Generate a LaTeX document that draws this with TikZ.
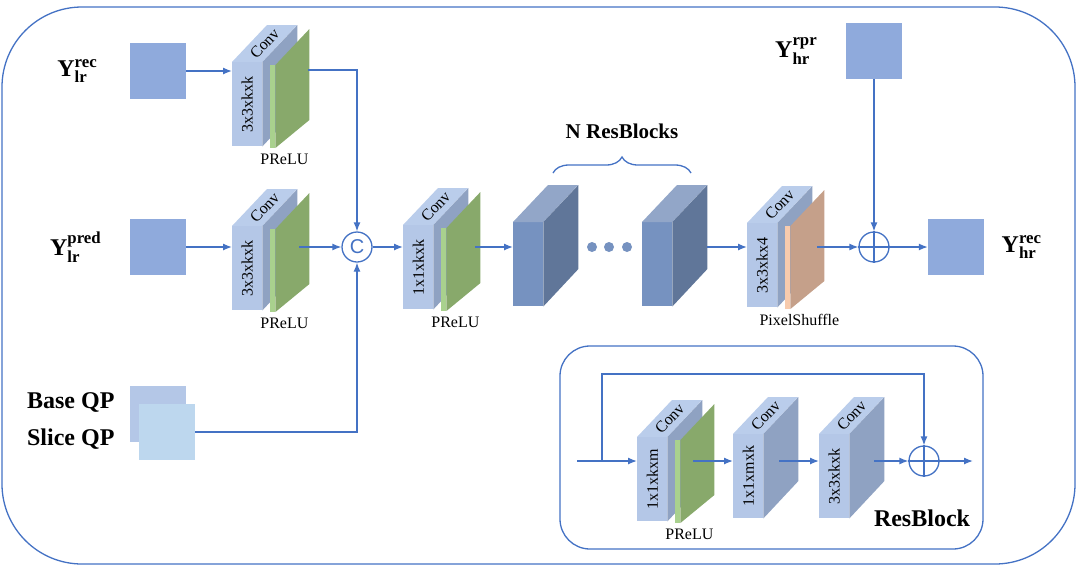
\documentclass[tikz,border=0pt]{standalone}
\usepackage{amsmath}
\usepackage{fontspec}
\setmainfont{Liberation Serif}
\setsansfont{Liberation Sans}
\usetikzlibrary{arrows.meta,positioning,decorations.pathreplacing}

\definecolor{lineblue}{RGB}{68,114,196}
\definecolor{mapblue}{RGB}{143,170,220}
\definecolor{qpbasecol}{RGB}{180,199,231}
\definecolor{qpslicecol}{RGB}{189,215,238}
\definecolor{convfrontcol}{RGB}{180,199,231}
\definecolor{convtopcol}{RGB}{186,205,235}
\definecolor{convsidecol}{RGB}{143,162,194}
\definecolor{resfrontcol}{RGB}{118,146,192}
\definecolor{restopcol}{RGB}{146,166,200}
\definecolor{ressidecol}{RGB}{96,118,153}
\definecolor{prelustripcol}{RGB}{169,209,142}
\definecolor{prelufacecol}{RGB}{136,169,107}
\definecolor{shufstripcol}{RGB}{248,203,173}
\definecolor{shuffacecol}{RGB}{197,160,138}

\tikzset{
  >={Latex[length=9pt,width=7pt]},
  link/.style={draw=lineblue, line width=1.3pt},
  fmap/.style={fill=mapblue, minimum size=56pt, inner sep=0pt},
  qpbox/.style={minimum size=56pt, inner sep=0pt},
  ylab/.style={font=\fontsize{24}{28}\selectfont},
  boldlab/.style={font=\fontsize{24}{28}\selectfont\bfseries},
  cube/.style={anchor=north west, inner sep=0pt, minimum width=30pt, minimum height=84pt},
  conv front/.style={fill=convfrontcol},
  conv top/.style={fill=convtopcol},
  conv side/.style={fill=convsidecol},
  res front/.style={fill=resfrontcol},
  res top/.style={fill=restopcol},
  res side/.style={fill=ressidecol},
  prelu strip/.style={fill=prelustripcol},
  prelu face/.style={fill=prelufacecol},
  shuffle strip/.style={fill=shufstripcol},
  shuffle face/.style={fill=shuffacecol},
  opnode/.style={circle, draw=lineblue, line width=1.3pt, fill=white, minimum size=30pt, inner sep=0pt}
}

% 3d block: scheme, name, x, y, front text
\newcommand{\layercube}[5]{%
  \node[cube,#1 front] (#2) at (#3,#4) {\rotatebox{90}{#5}};
  \fill[#1 top] (#2.north west) -- ++(35,-37) -- ++(30,0) -- (#2.north east) -- cycle;
  \fill[#1 side] (#2.north east) -- ++(35,-37) -- ++(0,84) -- (#2.south east) -- cycle;
}
\newcommand{\convcube}[4]{%
  \layercube{conv}{#1}{#2}{#3}{#4}
  \path (#1.north) ++(17.5,-18.5) node[rotate=47] {Conv};
}
% activation slab behind a block: block name, scheme, text
\newcommand{\actpanel}[3]{%
  \fill[#2 strip] (#1.north east) ++(8,3) rectangle ++(5,83);
  \fill[#2 face] (#1.north east) ++(13,3) -- ++(34,-36) -- ++(0,91) -- ++(-34,28) -- cycle;
  \path (#1.south east) ++(22,13) node {#3};
}

\begin{document}
\begin{tikzpicture}[x=1pt,y=-1pt,font=\fontsize{16}{19}\selectfont]
\useasboundingbox (0,0) rectangle (1080,566);
\draw[link, rounded corners=80pt] (2,7) rectangle (1075,564);
\draw[link, rounded corners=30pt] (560,346) rectangle (983,549);

% inputs
\node[fmap] (lrrec) at (158,71) {};
\node[ylab, left=29pt of lrrec] (lrrectxt) {$\textbf{Y}^{\textbf{rec}}_{\textbf{lr}}$};
\node[fmap] (lrpred) at (158,247) {};
\node[ylab, left=25pt of lrpred] (lrpredtxt) {$\textbf{Y}^{\textbf{pred}}_{\textbf{lr}}$};
\node[qpbox, fill=qpbasecol] (qpbase) at (158,414) {};
\node[qpbox, fill=qpslicecol] (qpslice) at (167,432) {};
\node[boldlab, anchor=east] (basetxt) at (118,402) {Base QP};
\node[boldlab, anchor=east] (slicetxt) at (118,439) {Slice QP};

% feature extraction
\convcube{b1}{232}{62}{3x3xkxk}
\actpanel{b1}{prelu}{PReLU}
\convcube{b2}{232}{226}{3x3xkxk}
\actpanel{b2}{prelu}{PReLU}
\node[opnode, text=lineblue, font=\fontsize{20}{22}\selectfont\sffamily] (cc) at (357,247) {C};

\convcube{b3}{403}{225}{1x1xkxk}
\actpanel{b3}{prelu}{PReLU}

% res blocks
\layercube{res}{resa}{513}{222}{}
\layercube{res}{resb}{642}{222}{}
\foreach \x in {592,609,627} \fill[resfrontcol] (\x,247) circle (5pt);
\coordinate (bl) at (553,173);
\coordinate (br) at (691,173);
\draw[link, decorate, decoration={brace, amplitude=16pt}] (bl) -- (br);
\node[font=\fontsize{21}{24}\selectfont\bfseries] (nres) at (622,131) {N ResBlocks};

\convcube{b4}{747}{223}{3x3xkx4}
\actpanel{b4}{shuffle}{PixelShuffle}

% output
\node[opnode] (add) at (874,247) {};
\draw[link] (add.north) -- (add.south) (add.west) -- (add.east);
\node[fmap] (hrrpr) at (874,51) {};
\node[ylab, left=25pt of hrrpr] (hrrprtxt) {$\textbf{Y}^{\textbf{rpr}}_{\textbf{hr}}$};
\node[fmap] (hrrec) at (956,247) {};
\node[ylab, right=14pt of hrrec] (hrrectxt) {$\textbf{Y}^{\textbf{rec}}_{\textbf{hr}}$};

\path (b1.north east) ++(46,8) coordinate (b1o);
\path (b2.east |- cc) ++(37,0) coordinate (b2o);
\path (b3.east |- cc) ++(42,0) coordinate (b3o);
\path (resb.east |- cc) ++(35,0) coordinate (resbo);
\path (b4.east |- cc) ++(40,0) coordinate (b4o);

\path[->, every edge/.append style={link}]
(lrrec.east) edge (lrrec -| b1.west)
(lrpred.east) edge (lrpred -| b2.west)
(b2o) edge (cc.west)
(cc.east) edge (cc -| b3.west)
(b3o) edge (b3o -| resa.west)
(resbo) edge (resbo -| b4.west)
(b4o) edge (add.west)
(hrrpr.south) edge (add.north)
(add.east) edge (add -| hrrec.west);
\draw[link,->] (b1o) -| (cc.north);
\draw[link,->] (qpslice.east) -| (cc.south);

% resblock detail
\convcube{r1}{637}{437}{1x1xkxm}
\actpanel{r1}{prelu}{PReLU}
\convcube{r2}{733}{434}{1x1xmxk}
\convcube{r3}{819}{434}{3x3xkxk}
\node[opnode] (radd) at (924,461) {};
\draw[link] (radd.north) -- (radd.south) (radd.west) -- (radd.east);
\node[boldlab] (rbtxt) at (922,518) {ResBlock};

\coordinate (rin) at (577,461);
\coordinate (rsplit) at (602,461);
\coordinate (rtop) at (602,374);
\coordinate (rout) at (973,461);
\path (r1.east |- rin) ++(26,0) coordinate (r1o);
\path (r2.east |- rin) ++(16,0) coordinate (r2o);
\path (r3.east |- rin) ++(25,0) coordinate (r3o);

\path[->, every edge/.append style={link}]
(rin) edge (rin -| r1.west)
(r1o) edge (r1o -| r2.west)
(r2o) edge (r2o -| r3.west)
(r3o) edge (radd.west)
(radd.east) edge (rout);
\draw[link,->] (rsplit) -- (rtop) -| (radd.north);
\end{tikzpicture}
\end{document}
